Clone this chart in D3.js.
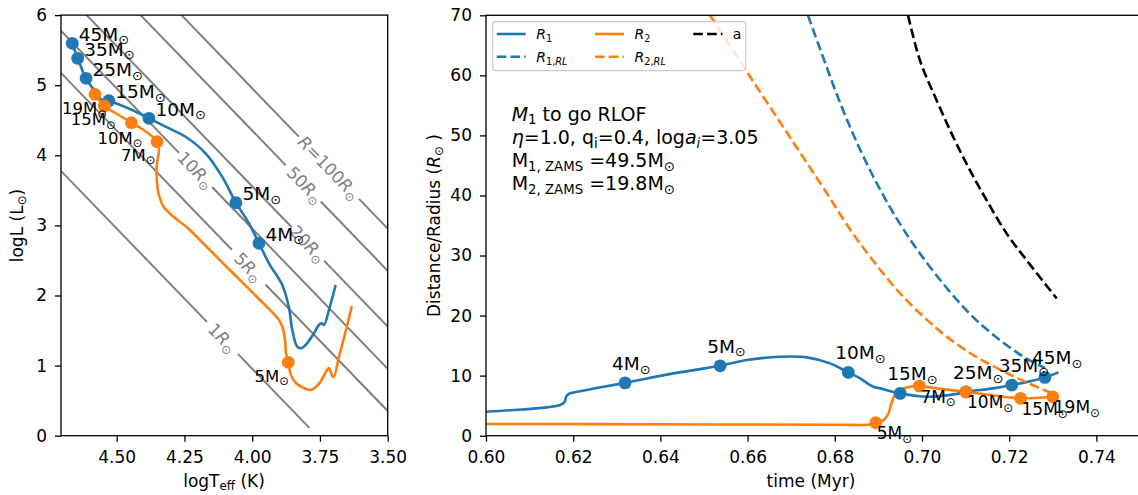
<!DOCTYPE html>
<html><head><meta charset="utf-8">
<script src="https://cdn.jsdelivr.net/npm/d3@7"></script>
<style>body{margin:0;background:#fff} svg{display:block;font-family:"DejaVu Sans",sans-serif}</style>
</head><body><svg id="c" width="1138" height="495"></svg>
<script>
// ---------- LEFT PANEL DATA (HR diagram) ----------
const hrTicksX = [4.50, 4.25, 4.00, 3.75, 3.50];
const hrTicksY = [0, 1, 2, 3, 4, 5, 6];
const star1LogT = [4.664,4.644,4.613,4.584,4.554,4.529,4.443,4.381,4.320,4.246,4.172,4.111,4.060,4.012,3.975,3.938,3.889,3.865,3.852,3.834,3.820,3.803,3.772,3.754,3.744,3.735,3.717,3.692];
const star1LogL = [5.598,5.384,5.098,4.932,4.789,4.779,4.646,4.528,4.408,4.265,4.028,3.695,3.324,3.030,2.745,2.459,2.150,1.840,1.508,1.270,1.247,1.294,1.461,1.579,1.603,1.579,1.793,2.150];
const star2LogT = [4.580,4.546,4.492,4.446,4.400,4.351,4.344,4.352,4.352,4.344,4.326,4.289,4.234,4.171,4.075,3.986,3.901,3.887,3.879,3.875,3.867,3.857,3.839,3.809,3.783,3.754,3.724,3.717,3.706,3.699,3.680,3.654,3.632];
const star2LogL = [4.870,4.703,4.575,4.465,4.361,4.194,4.076,3.862,3.648,3.434,3.262,3.120,2.949,2.706,2.335,1.993,1.650,1.536,1.365,1.180,1.047,0.866,0.752,0.680,0.652,0.738,0.937,0.966,0.866,0.837,1.123,1.508,1.850];
const mark1LogT = [4.664,4.644,4.613,4.529,4.381,4.060,3.975];
const mark1LogL = [5.598,5.384,5.098,4.779,4.528,3.324,2.745];
const mark1Mass = ["45","35","25","15","10","5","4"];
const mark2LogT = [4.580,4.546,4.446,4.351,3.867];
const mark2LogL = [4.870,4.703,4.465,4.194,1.047];
const mark2Mass = ["19","15","10","7","5"];
// constant-radius lines: two segments each (gap where the label sits)
const contourR = [1, 5, 10, 20, 50, 100];
const contourT = [[4.705,4.167,4.053,3.789],[4.705,4.075,3.951,3.500],[4.705,4.270,4.148,3.500],[4.611,3.854,3.735,3.500],[4.412,3.876,3.747,3.500],[4.261,3.828,3.606,3.500]];
const contourL = [[3.775,1.623,1.167,0.111],[5.173,2.653,2.157,0.353],[5.775,4.035,3.547,0.955],[6.000,2.973,2.497,1.557],[6.000,3.857,3.341,2.353],[6.000,4.267,3.379,2.955]];
const contourLabelT = [4.110, 4.013, 4.209, 3.795, 3.806, 3.717];
const contourLabelL = [1.395, 2.405, 3.791, 2.737, 3.577, 3.823];

// ---------- RIGHT PANEL DATA (radius vs time) ----------
const timeTicks = [0.60,0.62,0.64,0.66,0.68,0.70,0.72,0.74];
const distTicks = [0,10,20,30,40,50,60,70];
const r1Time = [0.6000,0.6063,0.6139,0.6170,0.6180,0.6184,0.6190,0.6216,0.6319,0.6430,0.6537,0.6598,0.6674,0.6736,0.6789,0.6831,0.6858,0.6888,0.6904,0.6950,0.7011,0.7087,0.7101,0.7163,0.7206,0.7282,0.7313];
const r1Val  = [4.0,4.27,4.72,5.1,5.6,6.5,6.95,7.4,8.8,10.38,11.64,12.59,13.14,13.04,12.04,10.54,9.54,8.15,7.88,7.05,6.48,7.05,7.3,7.88,8.43,9.71,10.54];
const r2Time = [0.600,0.640,0.680,0.6880,0.6894,0.6912,0.6923,0.6930,0.6938,0.6950,0.6972,0.6994,0.7034,0.7101,0.7156,0.7226,0.7300];
const r2Val  = [1.95,1.9,1.83,1.85,2.16,2.6,3.7,5.4,6.8,7.6,8.15,8.26,7.88,7.3,6.77,6.22,6.48];
const r1rlTime = [0.67385,0.67661,0.68119,0.68578,0.69037,0.69495,0.69954,0.70642,0.71216,0.71789,0.72362,0.72821];
const r1rlVal  = [70,64.42,55.49,47.67,41.02,35.28,30.33,23.94,19.45,15.91,13.00,11.26];
const r2rlTime = [0.65138,0.65596,0.66055,0.66628,0.67202,0.67775,0.68349,0.68922,0.69495,0.70069,0.70642,0.71216,0.71789,0.72362,0.72982];
const r2rlVal  = [70,64.97,59.81,53.49,47.17,40.85,34.37,28.72,23.73,19.57,16.08,13.25,11.01,9.01,7.05];
const aTime = [0.69679,0.69954,0.70337,0.70718,0.71101,0.71484,0.71943,0.72401,0.73090];
const aVal  = [70,62.47,55.82,49.72,44.18,39.19,33.65,29.21,22.85];
const m1Time = [0.6319,0.6537,0.6831,0.6950,0.7101,0.7206,0.7282];
const m1Val  = [8.8,11.64,10.54,7.05,7.3,8.43,9.71];
const m1Mass = ["4","5","10","15","25","35","45"];
const m2Time = [0.6894,0.6994,0.7101,0.7226,0.7300];
const m2Val  = [2.16,8.26,7.3,6.22,6.48];
const m2Mass = ["5","7","10","15","19"];

// ---------- STYLE ----------
const BLUE = "#1f77b4", ORANGE = "#ff7f0e", GRAY = "#808080";
const TICK_FS = 17, LAB_FS = 17, MARK_FS = 18.5, MARK2_FS = 17, LEG_FS = 14, BOX_FS = 19, CL_FS = 17;
const svg = d3.select("#c");

const xL = d3.scaleLinear().domain([4.7055, 3.5]).range([61, 387.7]);
const yL = d3.scaleLinear().domain([0, 6]).range([435.7, 15.1]);
const xR = d3.scaleLinear().domain([0.6, 0.75]).range([486, 1140]);
const yR = d3.scaleLinear().domain([0, 70]).range([435.7, 15.3]);

const defs = svg.append("defs");
defs.append("clipPath").attr("id","clipL").append("rect").attr("x",61).attr("y",15.1).attr("width",326.7).attr("height",420.6);
defs.append("clipPath").attr("id","clipR").append("rect").attr("x",486).attr("y",15.3).attr("width",654).attr("height",420.4);

// rich text helper: segs = [{t, sub, it}]
function rich(sel, segs, fs) {
  let cur = 0;
  segs.forEach(s => {
    const off = s.sub ? fs * 0.2 : 0;
    const ts = sel.append("tspan").text(s.t);
    if (s.sub) ts.attr("font-size", (fs * 0.7) + "px");
    if (s.it) ts.attr("font-style", "italic");
    if (off - cur) ts.attr("dy", off - cur);
    cur = off;
  });
}

// ---------- LEFT PANEL ----------
const gL = svg.append("g");
const cl = gL.append("g").attr("clip-path","url(#clipL)");
const segLine = d3.line().x(d => xL(d[0])).y(d => yL(d[1]));
contourR.forEach((r, i) => {
  const T = contourT[i], L = contourL[i];
  [[0,1],[2,3]].forEach(([a,b]) => {
    cl.append("path").attr("d", segLine([[T[a],L[a]],[T[b],L[b]]]))
      .attr("fill","none").attr("stroke",GRAY).attr("stroke-width",2);
  });
  const ang = Math.atan2(yL(L[3]) - yL(L[0]), xL(T[3]) - xL(T[0])) * 180 / Math.PI;
  const t = gL.append("text")
    .attr("transform", `translate(${xL(contourLabelT[i])},${yL(contourLabelL[i])}) rotate(${ang})`)
    .attr("text-anchor","middle").attr("dy","0.35em")
    .attr("font-size", CL_FS + "px").attr("fill", GRAY);
  const segs = r === 100 ? [{t:"R",it:true},{t:"=100"},{t:"R",it:true},{t:"⊙",sub:true}]
                         : [{t:String(r)},{t:"R",it:true},{t:"⊙",sub:true}];
  rich(t, segs, CL_FS);
});

const curveL = d3.line().x(d => xL(d[0])).y(d => yL(d[1])).curve(d3.curveCatmullRom.alpha(0.5));
cl.append("path").attr("d", curveL(d3.zip(star1LogT, star1LogL))).attr("fill","none").attr("stroke",BLUE).attr("stroke-width",2.6);
cl.append("g").selectAll("circle").data(d3.zip(mark1LogT, mark1LogL)).join("circle")
  .attr("cx", d => xL(d[0])).attr("cy", d => yL(d[1])).attr("r", 6.4).attr("fill", BLUE);
cl.append("path").attr("d", curveL(d3.zip(star2LogT, star2LogL))).attr("fill","none").attr("stroke",ORANGE).attr("stroke-width",2.6);
cl.append("g").selectAll("circle").data(d3.zip(mark2LogT, mark2LogL)).join("circle")
  .attr("cx", d => xL(d[0])).attr("cy", d => yL(d[1])).attr("r", 6.4).attr("fill", ORANGE);

mark1Mass.forEach((m, i) => {
  const t = gL.append("text").attr("x", xL(mark1LogT[i]) + 6.5).attr("y", yL(mark1LogL[i]) - 2.5)
    .attr("font-size", MARK_FS + "px");
  rich(t, [{t: m + "M"}, {t:"⊙", sub:true}], MARK_FS);
});
const o2dx = [12, 11.4, 11, -1.6, 0.7], o2dy = [23, 22.3, 24, 22.3, 22.7];
mark2Mass.forEach((m, i) => {
  const t = gL.append("text").attr("x", xL(mark2LogT[i]) + o2dx[i]).attr("y", yL(mark2LogL[i]) + o2dy[i] - 3)
    .attr("text-anchor","end").attr("font-size", 16.5 + "px");
  rich(t, [{t: m + "M"}, {t:"⊙", sub:true}], 16.5);
});

// left axes
gL.append("g").attr("transform","translate(0,435.7)")
  .call(d3.axisBottom(xL).tickValues(hrTicksX).tickFormat(d3.format(".2f")).tickSize(6).tickPadding(9));
gL.append("g").attr("transform","translate(61,0)")
  .call(d3.axisLeft(yL).tickValues(hrTicksY).tickFormat(d3.format("d")).tickSize(6).tickPadding(8));
gL.append("rect").attr("x",61).attr("y",15.1).attr("width",326.7).attr("height",420.6)
  .attr("fill","none").attr("stroke","#000").attr("stroke-width",1.3);
const tLX = gL.append("text").attr("x",224).attr("y",487).attr("text-anchor","middle").attr("font-size",LAB_FS+"px");
rich(tLX, [{t:"logT"},{t:"eff",sub:true},{t:" (K)"}], LAB_FS);
const tLY = gL.append("text").attr("transform","translate(23,225.5) rotate(-90)").attr("text-anchor","middle").attr("font-size",LAB_FS+"px");
rich(tLY, [{t:"logL (L"},{t:"⊙",sub:true},{t:")"}], LAB_FS);

// ---------- RIGHT PANEL ----------
const gR = svg.append("g");
const cr = gR.append("g").attr("clip-path","url(#clipR)");
const lineR = d3.line().x(d => xR(d[0])).y(d => yR(d[1])).curve(d3.curveCatmullRom.alpha(0.5));
cr.append("path").attr("d", lineR(d3.zip(r1Time, r1Val))).attr("fill","none").attr("stroke",BLUE).attr("stroke-width",2.6);
cr.append("path").attr("d", lineR(d3.zip(r1rlTime, r1rlVal))).attr("fill","none").attr("stroke",BLUE).attr("stroke-width",2.6).attr("stroke-dasharray","9.6,4.2");
cr.append("path").attr("d", lineR(d3.zip(r2Time, r2Val))).attr("fill","none").attr("stroke",ORANGE).attr("stroke-width",2.6);
cr.append("path").attr("d", lineR(d3.zip(r2rlTime, r2rlVal))).attr("fill","none").attr("stroke",ORANGE).attr("stroke-width",2.6).attr("stroke-dasharray","9.6,4.2");
cr.append("path").attr("d", lineR(d3.zip(aTime, aVal))).attr("fill","none").attr("stroke","#000").attr("stroke-width",2.6).attr("stroke-dasharray","9.6,4.2");
cr.append("g").selectAll("circle").data(d3.zip(m1Time, m1Val)).join("circle")
  .attr("cx", d => xR(d[0])).attr("cy", d => yR(d[1])).attr("r", 6.4).attr("fill", BLUE);
cr.append("g").selectAll("circle").data(d3.zip(m2Time, m2Val)).join("circle")
  .attr("cx", d => xR(d[0])).attr("cy", d => yR(d[1])).attr("r", 6.4).attr("fill", ORANGE);
m1Mass.forEach((m, i) => {
  const t = gR.append("text").attr("x", xR(m1Time[i]) - 13).attr("y", yR(m1Val[i]) - 13).attr("font-size", MARK_FS + "px");
  rich(t, [{t: m + "M"}, {t:"⊙", sub:true}], MARK_FS);
});
m2Mass.forEach((m, i) => {
  const t = gR.append("text").attr("x", xR(m2Time[i]) + 1).attr("y", yR(m2Val[i]) + 16.5).attr("font-size", MARK2_FS + "px");
  rich(t, [{t: m + "M"}, {t:"⊙", sub:true}], MARK2_FS);
});

gR.append("g").attr("transform","translate(0,435.7)")
  .call(d3.axisBottom(xR).tickValues(timeTicks).tickFormat(d3.format(".2f")).tickSize(6).tickPadding(9));
gR.append("g").attr("transform","translate(486,0)")
  .call(d3.axisLeft(yR).tickValues(distTicks).tickFormat(d3.format("d")).tickSize(6).tickPadding(8));
gR.append("rect").attr("x",486).attr("y",15.3).attr("width",654).attr("height",420.4)
  .attr("fill","none").attr("stroke","#000").attr("stroke-width",1.3);
gR.append("text").attr("x",811).attr("y",487).attr("text-anchor","middle").attr("font-size",LAB_FS+"px").text("time (Myr)");
const tRY = gR.append("text").attr("transform","translate(439.5,225.5) rotate(-90)").attr("text-anchor","middle").attr("font-size",LAB_FS+"px");
rich(tRY, [{t:"Distance/Radius ("},{t:"R",it:true},{t:"⊙",sub:true},{t:" )"}], LAB_FS);

svg.selectAll(".tick text").attr("font-size", TICK_FS + "px").attr("font-family","DejaVu Sans").attr("fill","#000");
svg.selectAll(".tick line").attr("stroke-width", 1.3).attr("stroke","#000");
svg.selectAll(".domain").remove();

// text box
const boxLines = [
  [{t:"M",it:true},{t:"1",sub:true},{t:" to go RLOF"}],
  [{t:"η",it:true},{t:"=1.0, q"},{t:"i",sub:true},{t:"=0.4, log"},{t:"a",it:true},{t:"i",sub:true,it:true},{t:"=3.05"}],
  [{t:"M"},{t:"1, ZAMS",sub:true},{t:" =49.5M"},{t:"⊙",sub:true}],
  [{t:"M"},{t:"2, ZAMS",sub:true},{t:" =19.8M"},{t:"⊙",sub:true}]
];
boxLines.forEach((segs, i) => {
  const t = gR.append("text").attr("x", 511.7).attr("y", 120.5 + i * 23.2).attr("font-size", BOX_FS + "px");
  rich(t, segs, BOX_FS);
});

// legend
const lg = gR.append("g");
lg.append("rect").attr("x",492.7).attr("y",21.7).attr("width",253).attr("height",49).attr("rx",3)
  .attr("fill","#fff").attr("fill-opacity",0.8).attr("stroke","#cccccc").attr("stroke-width",1.2);
const legItems = [
  {x:496.7, y:34,   c:BLUE,   dash:null, lab:[{t:"R",it:true},{t:"1",sub:true}]},
  {x:496.7, y:56.7, c:BLUE,   dash:"9.6,4.2", lab:[{t:"R",it:true},{t:"1,",sub:true},{t:"RL",sub:true,it:true}]},
  {x:595,   y:34,   c:ORANGE, dash:null, lab:[{t:"R",it:true},{t:"2",sub:true}]},
  {x:595,   y:56.7, c:ORANGE, dash:"9.6,4.2", lab:[{t:"R",it:true},{t:"2,",sub:true},{t:"RL",sub:true,it:true}]},
  {x:693.3, y:34,   c:"#000", dash:"9.6,4.2", lab:[{t:"a"}]}
];
legItems.forEach(it => {
  const ln = lg.append("line").attr("x1", it.x).attr("x2", it.x + 29).attr("y1", it.y).attr("y2", it.y)
    .attr("stroke", it.c).attr("stroke-width", 2.6);
  if (it.dash) ln.attr("stroke-dasharray", it.dash);
  const t = lg.append("text").attr("x", it.x + 39.5).attr("y", it.y + 5).attr("font-size", LEG_FS + "px");
  rich(t, it.lab, LEG_FS);
});
</script></body></html>
